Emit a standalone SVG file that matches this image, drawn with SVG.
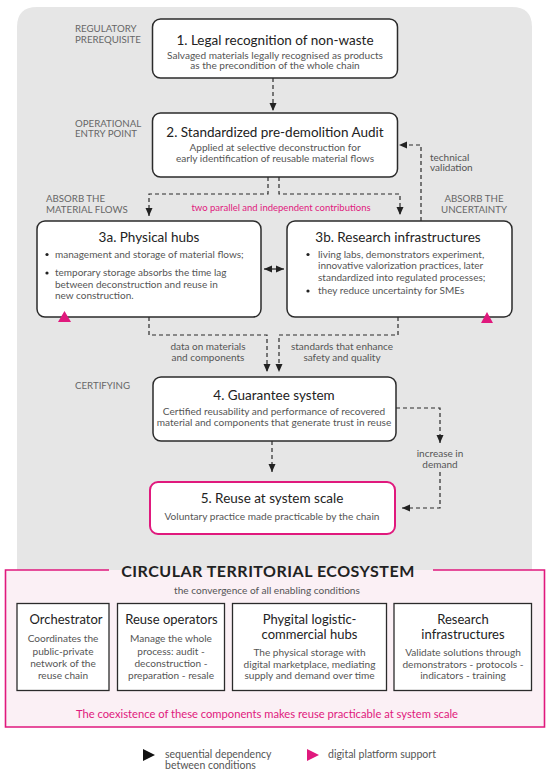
<svg xmlns="http://www.w3.org/2000/svg" width="550" height="775" viewBox="0 0 550 775">
<defs>
<style>
text{font-family:Lato,"Noto Sans","DejaVu Sans",sans-serif}
.node{fill:#fff;stroke:#2b2b2b;stroke-width:1.5}
.pnode{fill:#fff;stroke:#e0197d;stroke-width:2}
.comp{fill:#fff;stroke:#2b2b2b;stroke-width:1.3}
.t{font-size:13.5px;fill:#222;text-anchor:middle}
.ct{font-size:13px;fill:#222;text-anchor:middle}
.s{font-size:10.1px;fill:#555;text-anchor:middle}
.b{font-size:10px;fill:#555}
.lab{font-size:9.7px;fill:#666}
.lm{font-size:9.7px;fill:#666;text-anchor:middle}
.e{font-size:10px;fill:#555;text-anchor:middle}
.pink{fill:#e0197d}
.dash{fill:none;stroke:#2b2b2b;stroke-width:1.2;stroke-dasharray:4 3}
</style>
<marker id="ah" viewBox="0 0 8 8" refX="8" refY="4" markerWidth="8" markerHeight="8" markerUnits="userSpaceOnUse" orient="auto">
<path d="M0,0.5 L8,4 L0,7.5 z" fill="#222"/>
</marker>
<marker id="ah2" viewBox="0 0 8 8" refX="0" refY="4" markerWidth="8" markerHeight="8" markerUnits="userSpaceOnUse" orient="auto">
<path d="M8,0.5 L0,4 L8,7.5 z" fill="#222"/>
</marker>
</defs>

<!-- background panel -->
<path d="M17,570 L17,27 Q17,7 37,7 L512,7 Q532,7 532,27 L532,570 Z" fill="#e6e6e6"/>

<!-- side labels -->
<text class="lab" x="75" y="31.5">REGULATORY</text>
<text class="lab" x="75" y="42.5">PREREQUISITE</text>
<text class="lab" x="75" y="126.5">OPERATIONAL</text>
<text class="lab" x="75" y="137">ENTRY POINT</text>
<text class="lab" x="46" y="202">ABSORB THE</text>
<text class="lab" x="46" y="212.5">MATERIAL FLOWS</text>
<text class="lm" x="474" y="202">ABSORB THE</text>
<text class="lm" x="474" y="212.5">UNCERTAINTY</text>
<text class="lab" x="75" y="388.5">CERTIFYING</text>

<!-- connectors -->
<g id="connectors">
<line class="dash" x1="273" y1="78" x2="273" y2="111" marker-end="url(#ah)"/>
<polyline class="dash" points="268,177 268,194 149,194 149,216" marker-end="url(#ah)"/>
<polyline class="dash" points="279,177 279,194 400,194 400,215" marker-end="url(#ah)"/>
<polyline class="dash" points="421,221 421,145 399,145" marker-end="url(#ah)"/>
<line x1="264" y1="269" x2="284" y2="269" stroke="#222" stroke-width="1.2" marker-end="url(#ah)" marker-start="url(#ah2)"/>
<polyline class="dash" points="149,317 149,335 267,335 267,372" marker-end="url(#ah)"/>
<polyline class="dash" points="398,317 398,335 279,335 279,372" marker-end="url(#ah)"/>
<line class="dash" x1="272" y1="441" x2="272" y2="472" marker-end="url(#ah)"/>
<polyline class="dash" points="396,408 440,408 440,443" marker-end="url(#ah)"/>
<polyline class="dash" points="440,472 440,508 402,508" marker-end="url(#ah)"/>
<text class="pink" x="281" y="210.5" font-size="9.5" text-anchor="middle">two parallel and independent contributions</text>
<text class="b" x="430" y="160.5">technical</text>
<text class="b" x="430" y="171">validation</text>
<text class="e" x="208" y="349.5">data on materials</text>
<text class="e" x="208" y="360.5">and components</text>
<text class="e" x="342" y="349.5">standards that enhance</text>
<text class="e" x="342" y="360.5">safety and quality</text>
<text class="e" x="440" y="456.5">increase in</text>
<text class="e" x="440" y="467.5">demand</text>
</g>

<g id="n1">
<rect class="node" x="152.5" y="19" width="245" height="59" rx="8"/>
<text class="t" x="275" y="45">1. Legal recognition of non-waste</text>
<text class="s" x="275" y="58.5">Salvaged materials legally recognised as products</text>
<text class="s" x="275" y="69">as the precondition of the whole chain</text>
</g>

<g id="n2">
<rect class="node" x="152.5" y="113" width="245" height="64" rx="8"/>
<text class="t" x="275" y="137">2. Standardized pre-demolition Audit</text>
<text class="s" x="275" y="151">Applied at selective deconstruction for</text>
<text class="s" x="275" y="162">early identification of reusable material flows</text>
</g>

<g id="n3a">
<rect class="node" x="37" y="221" width="224" height="96" rx="8"/>
<text class="t" x="149" y="241.5">3a. Physical hubs</text>
<circle cx="47" cy="254.5" r="1.6" fill="#222"/>
<text class="b" x="55" y="257.5">management and storage of material flows;</text>
<circle cx="47" cy="273" r="1.6" fill="#222"/>
<text class="b" x="55" y="276">temporary storage absorbs the time lag</text>
<text class="b" x="55" y="287.5">between deconstruction and reuse in</text>
<text class="b" x="55" y="299">new construction.</text>
<polygon class="pink" points="58,322 71,322 64.5,311"/>
</g>

<g id="n3b">
<rect class="node" x="287" y="221" width="225" height="96" rx="8"/>
<text class="t" x="398" y="241.5">3b. Research infrastructures</text>
<circle cx="308" cy="254.5" r="1.6" fill="#222"/>
<text class="b" x="318" y="257.5">living labs, demonstrators experiment,</text>
<text class="b" x="318" y="269">innovative valorization practices, later</text>
<text class="b" x="318" y="280.5">standardized into regulated processes;</text>
<circle cx="308" cy="291" r="1.6" fill="#222"/>
<text class="b" x="318" y="294">they reduce uncertainty for SMEs</text>
<polygon class="pink" points="481,323 493,323 487,312"/>
</g>

<g id="n4">
<rect class="node" x="153" y="377" width="243" height="64" rx="8"/>
<text class="t" x="274" y="400">4. Guarantee system</text>
<text class="s" x="274" y="414.5">Certified reusability and performance of recovered</text>
<text class="s" x="274" y="425.5">material and components that generate trust in reuse</text>
</g>

<g id="n5">
<rect class="pnode" x="150" y="482" width="245" height="52" rx="8"/>
<text class="t" x="272" y="503">5. Reuse at system scale</text>
<text class="s" x="272" y="519.5">Voluntary practice made practicable by the chain</text>
</g>

<g id="ecosystem">
<rect x="5.5" y="570" width="539" height="157" fill="#fbf0f5"/>
<path d="M109,570 L5.5,570 L5.5,727 L544.5,727 L544.5,570 L433,570" fill="none" stroke="#e0197d" stroke-width="1.6"/>
<text x="268" y="577" font-size="16" font-weight="700" fill="#222" text-anchor="middle" letter-spacing="0.5">CIRCULAR TERRITORIAL ECOSYSTEM</text>
<text class="s" x="267" y="593.5">the convergence of all enabling conditions</text>
<text class="pink" x="267" y="717.5" font-size="11.2" text-anchor="middle">The coexistence of these components makes reuse practicable at system scale</text>
</g>

<g id="c1">
<rect class="comp" x="17" y="603.5" width="92" height="87"/>
<text class="ct" x="66" y="623.5">Orchestrator</text>
<text class="s" x="63" y="642">Coordinates the</text>
<text class="s" x="63" y="654.5">public-private</text>
<text class="s" x="63" y="666.5">network of the</text>
<text class="s" x="63" y="678.5">reuse chain</text>
</g>
<g id="c2">
<rect class="comp" x="117.5" y="603.5" width="107" height="87"/>
<text class="ct" x="171.5" y="623.5">Reuse operators</text>
<text class="s" x="171" y="642">Manage the whole</text>
<text class="s" x="171" y="654.5">process: audit -</text>
<text class="s" x="171" y="666.5">deconstruction -</text>
<text class="s" x="171" y="678.5">preparation - resale</text>
</g>
<g id="c3">
<rect class="comp" x="232.5" y="603.5" width="154" height="87"/>
<text class="ct" x="309.5" y="623.5">Phygital logistic-</text>
<text class="ct" x="309.5" y="638.5">commercial hubs</text>
<text class="s" x="309.5" y="655.5">The physical storage with</text>
<text class="s" x="309.5" y="667.5">digital marketplace, mediating</text>
<text class="s" x="309.5" y="679">supply and demand over time</text>
</g>
<g id="c4">
<rect class="comp" x="394" y="603.5" width="137.5" height="87"/>
<text class="ct" x="463" y="623.5">Research</text>
<text class="ct" x="463" y="638.5">infrastructures</text>
<text class="s" x="463" y="655.5">Validate solutions through</text>
<text class="s" x="463" y="667.5">demonstrators - protocols -</text>
<text class="s" x="463" y="679">indicators - training</text>
</g>

<g id="legend">
<polygon points="143,749 155,755 143,761" fill="#111"/>
<text x="165" y="758" font-size="10.5" fill="#555">sequential dependency</text>
<text x="165" y="768.5" font-size="10.5" fill="#555">between conditions</text>
<polygon class="pink" points="307,749 319,755 307,761"/>
<text x="328" y="758" font-size="10.5" fill="#555">digital platform support</text>
</g>
</svg>
